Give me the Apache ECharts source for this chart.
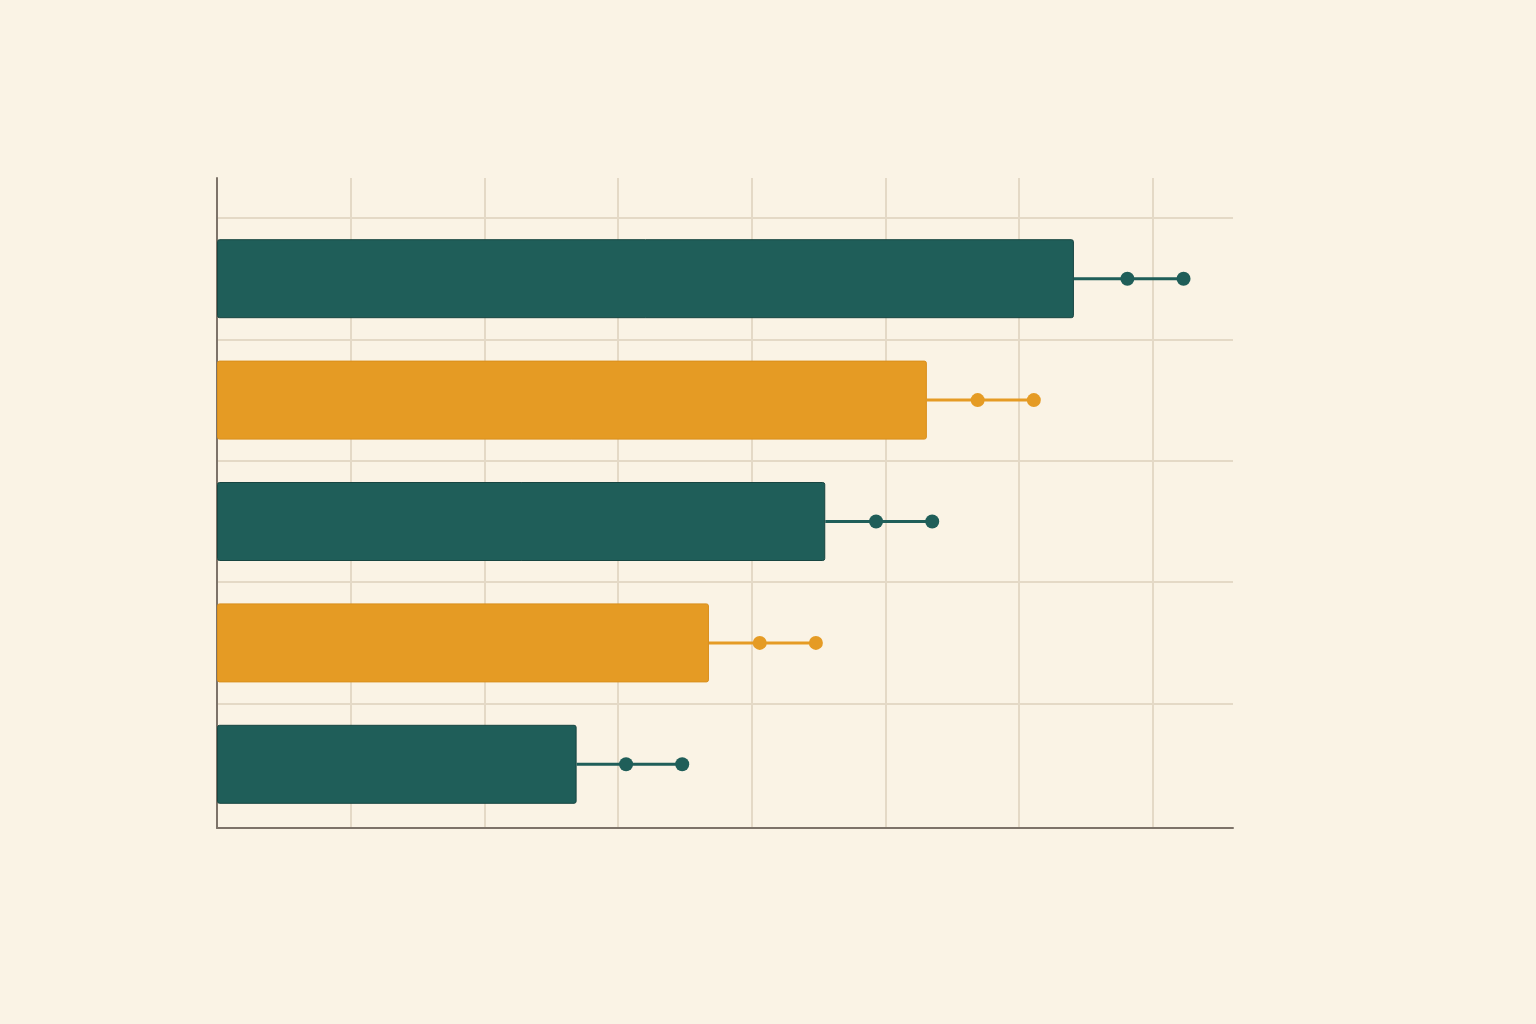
<!DOCTYPE html>
<html>
<head>
<meta charset="utf-8">
<title>Bars with whiskers</title>
<script src="https://cdn.jsdelivr.net/npm/echarts@6/dist/echarts.min.js"></script>
<style>
  html, body { margin: 0; padding: 0; background: #faf3e5; }
  #chart { width: 1536px; height: 1024px; }
</style>
</head>
<body>
<div id="chart"></div>
<script>
// categories, top to bottom
const categories = ['A', 'B', 'C', 'D', 'E'];
// bar lengths
const barValues = [64.1, 53.1, 45.5, 36.8, 26.9];
// whisker middle dot and end dot
const midValues = [68.1, 56.9, 49.3, 40.6, 30.6];
const endValues = [72.3, 61.1, 53.5, 44.8, 34.8];

const TEAL = '#1f5e59';
const ORANGE = '#e59b24';
const colorOf = i => (i % 2 === 0 ? TEAL : ORANGE);

const xMax = 76;
const gridColor = '#e4d9c6';
const axisColor = '#7d7369';

const chart = echarts.init(document.getElementById('chart'));

const whiskerData = categories.map((c, i) => [barValues[i], midValues[i], endValues[i], i]);

const option = {
  backgroundColor: '#faf3e5',
  animation: false,
  grid: [
    { left: 217, right: 303, top: 178, bottom: 196 },
    { left: 217, right: 303, top: 218, bottom: 199 }
  ],
  xAxis: [
    {
      gridIndex: 0, type: 'value', min: 0, max: xMax, interval: 10,
      axisLine: { show: true, lineStyle: { color: axisColor, width: 2 } },
      axisTick: { show: false }, axisLabel: { show: false },
      splitLine: { show: true, showMinLine: false, showMaxLine: false,
        lineStyle: { color: gridColor, width: 2 } }
    },
    {
      gridIndex: 1, type: 'value', min: 0, max: xMax, interval: 10,
      axisLine: { show: false }, axisTick: { show: false },
      axisLabel: { show: false }, splitLine: { show: false }
    }
  ],
  yAxis: [
    {
      gridIndex: 0, type: 'value', min: 0, max: 1,
      axisLine: { show: true, lineStyle: { color: axisColor, width: 2 } },
      axisTick: { show: false }, axisLabel: { show: false },
      splitLine: { show: false }
    },
    {
      gridIndex: 1, type: 'category', data: categories, inverse: true,
      axisLine: { show: false }, axisTick: { show: false },
      axisLabel: { show: false },
      splitLine: { show: true, showMaxLine: false,
        lineStyle: { color: gridColor, width: 2 } }
    }
  ],
  series: [
    {
      type: 'bar',
      xAxisIndex: 1, yAxisIndex: 1,
      barWidth: 79,
      data: barValues.map((v, i) => ({
        value: v,
        itemStyle: {
          color: colorOf(i),
          borderColor: i % 2 === 0 ? '#174541' : '#d98f1c',
          borderWidth: 1,
          borderRadius: 2
        }
      })),
      z: 3
    },
    {
      type: 'custom',
      xAxisIndex: 1, yAxisIndex: 1,
      data: whiskerData,
      z: 4,
      renderItem(params, api) {
        const i = api.value(3);
        const start = api.coord([api.value(0), i]);
        const mid = api.coord([api.value(1), i]);
        const end = api.coord([api.value(2), i]);
        const c = colorOf(i);
        return {
          type: 'group',
          children: [
            { type: 'line', shape: { x1: start[0], y1: start[1], x2: end[0], y2: end[1] },
              style: { stroke: c, lineWidth: 3 } },
            { type: 'circle', shape: { cx: mid[0], cy: mid[1], r: 7 }, style: { fill: c } },
            { type: 'circle', shape: { cx: end[0], cy: end[1], r: 7 }, style: { fill: c } }
          ]
        };
      }
    }
  ]
};

chart.setOption(option);
</script>
</body>
</html>
